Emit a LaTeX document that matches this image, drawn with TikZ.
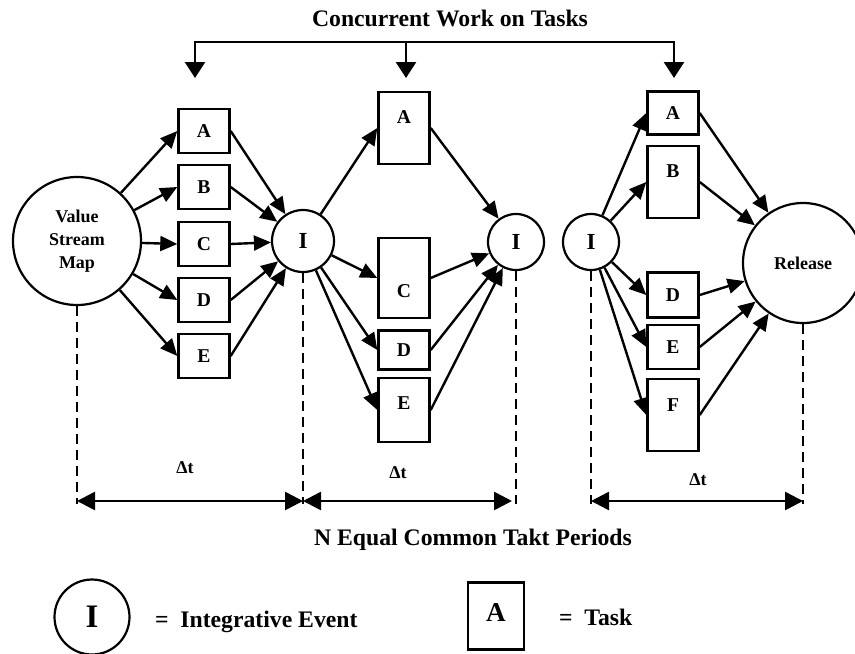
\documentclass[tikz,border=0pt]{standalone}
\usepackage{fontspec}
\setmainfont{Liberation Serif}
\usetikzlibrary{arrows.meta}

\begin{document}
\begin{tikzpicture}[
    x=0.5pt, y=-0.5pt,
    head/.style={font=\fontsize{11.85}{14}\selectfont\bfseries},
    task/.style={draw, line width=1.2pt, minimum width=25.5pt, minimum height=#1, inner sep=0pt, text height=6.5pt, text depth=0pt, font=\fontsize{9.8}{11}\selectfont\bfseries},
    task/.default=22pt,
    lift/.style={text depth=#1},
    sink/.style={text height=#1},
    event/.style={draw, circle, line width=1.1pt, minimum size=#1, inner sep=0pt, align=center, font=\fontsize{11.5}{13}\selectfont\bfseries},
    event/.default=28pt,
    small/.style={font=\fontsize{9}{11.5}\selectfont\bfseries},
    arrow/.style={-{Triangle[length=8.5pt,width=7.5pt]}, line width=1.2pt},
    fork/.style={{Triangle[length=8pt,width=10pt]}-{Triangle[length=8pt,width=10pt]}, line width=1.3pt},
    drop/.style={-{Triangle[length=8pt,width=10pt]}, line width=1.3pt},
    span/.style={{Triangle[length=9pt,width=9pt]}-{Triangle[length=9pt,width=9pt]}, line width=1.3pt},
    guide/.style={dash pattern=on 5pt off 3pt, line width=1.1pt}
]
\clip (0,0) rectangle (855,653);

% heading and bracket
\node[head] (title) at (450,18) {Concurrent Work on Tasks};
\coordinate (bl) at (195,42);
\coordinate (bm) at (406,42);
\coordinate (br) at (674,42);
\coordinate (el) at (195,78);
\coordinate (em) at (406,78);
\coordinate (er) at (674,78);
\draw[fork] (el) -- (bl) -- (br) -- (er);
\draw[drop] (bm) -- (em);

% first period
\node[event=64pt, small] (vsm) at (77,241) {Value\\Stream\\Map};
\node[task] (a1) at (204,131) {A};
\node[task] (b1) at (204,187) {B};
\node[task] (c1) at (204,244) {C};
\node[task] (d1) at (204,300) {D};
\node[task] (e1) at (204,356) {E};
\node[event=31pt] (i1) at (303,241) {I};

% second period
\node[task=36pt, lift=11pt] (a2) at (404,128) {A};
\node[task=40pt, sink=19.5pt] (c2) at (404,278) {C};
\node[task=19.5pt] (d2) at (404,350) {D};
\node[task=32pt, lift=7pt] (e2) at (404,410) {E};
\node[event] (i2) at (516,242) {I};

% third period
\node[event] (i3) at (591,242) {I};
\node[task=21.5pt] (a3) at (673,113) {A};
\node[task=36pt, lift=11pt] (b3) at (673,182) {B};
\node[task=22.5pt] (d3) at (673,295) {D};
\node[task] (e3) at (673,347) {E};
\node[task=36pt, lift=10pt] (f3) at (673,415) {F};
\node[event=60pt, small] (rel) at (803,263) {Release};

% flows
\draw[arrow] (vsm) -- (a1.west);
\draw[arrow] (vsm) -- (b1.west);
\draw[arrow] (vsm) -- (c1.west);
\draw[arrow] (vsm) -- (d1.west);
\draw[arrow] (vsm) -- (e1.west);
\draw[arrow] (a1.east) -- (i1);
\draw[arrow] (b1.east) -- (i1);
\draw[arrow] (c1.east) -- (i1);
\draw[arrow] (d1.east) -- (i1);
\draw[arrow] (e1.east) -- (i1);
\draw[arrow] (i1) -- (a2.west);
\draw[arrow] (i1) -- (c2.west);
\draw[arrow] (i1) -- (d2.west);
\draw[arrow] (i1) -- (e2.west);
\draw[arrow] (a2.east) -- (i2);
\draw[arrow] (c2.east) -- (i2);
\draw[arrow] (d2.east) -- (i2);
\draw[arrow] (e2.east) -- (i2);
\draw[arrow] (i3) -- (a3.west);
\draw[arrow] (i3) -- (b3.west);
\draw[arrow] (i3) -- (d3.west);
\draw[arrow] (i3) -- (e3.west);
\draw[arrow] (i3) -- (f3.west);
\draw[arrow] (a3.east) -- (rel);
\draw[arrow] (b3.east) -- (rel);
\draw[arrow] (d3.east) -- (rel);
\draw[arrow] (e3.east) -- (rel);
\draw[arrow] (f3.east) -- (rel);

% takt periods
\coordinate (t0) at (vsm.south |- 0,501);
\coordinate (t1) at (i1.south |- 0,501);
\coordinate (t2) at (i2.south |- 0,501);
\coordinate (t3) at (i3.south |- 0,501);
\coordinate (t4) at (rel.south |- 0,501);
\draw[guide] (vsm.south) -- (t0) -- ++(0,3);
\draw[guide] (i1.south) -- (t1) -- ++(0,3);
\draw[guide] (i2.south) -- (t2) -- ++(0,3);
\draw[guide] (i3.south) -- (t3) -- ++(0,3);
\draw[guide] (rel.south) -- (t4) -- ++(0,3);
\draw[span] (t0) -- (t1);
\draw[span] (t1) -- ([xshift=-2pt]t2);
\draw[span] (t3) -- (t4);
\node[small] (dt1) at (185,468) {Δt};
\node[small] (dt2) at (398,473) {Δt};
\node[small] (dt3) at (698,480) {Δt};
\node[head] (takt) at (473,540) {N Equal Common Takt Periods};

% key
\node[draw, circle, line width=1.1pt, minimum size=37.5pt, inner sep=0pt, font=\fontsize{16.4}{18}\selectfont\bfseries] (keyev) at (92,617) {I};
\node[head, anchor=west] (keyevtxt) at (148,622) {=\ \ Integrative Event};
\node[draw, line width=1.2pt, minimum width=28pt, minimum height=33.5pt, inner sep=0pt, text height=9pt, text depth=3.5pt, font=\fontsize{13.6}{16}\selectfont\bfseries] (keytask) at (496,616) {A};
\node[head, anchor=west] (keytasktxt) at (552,617) {=\ \ Task};
\end{tikzpicture}
\end{document}
